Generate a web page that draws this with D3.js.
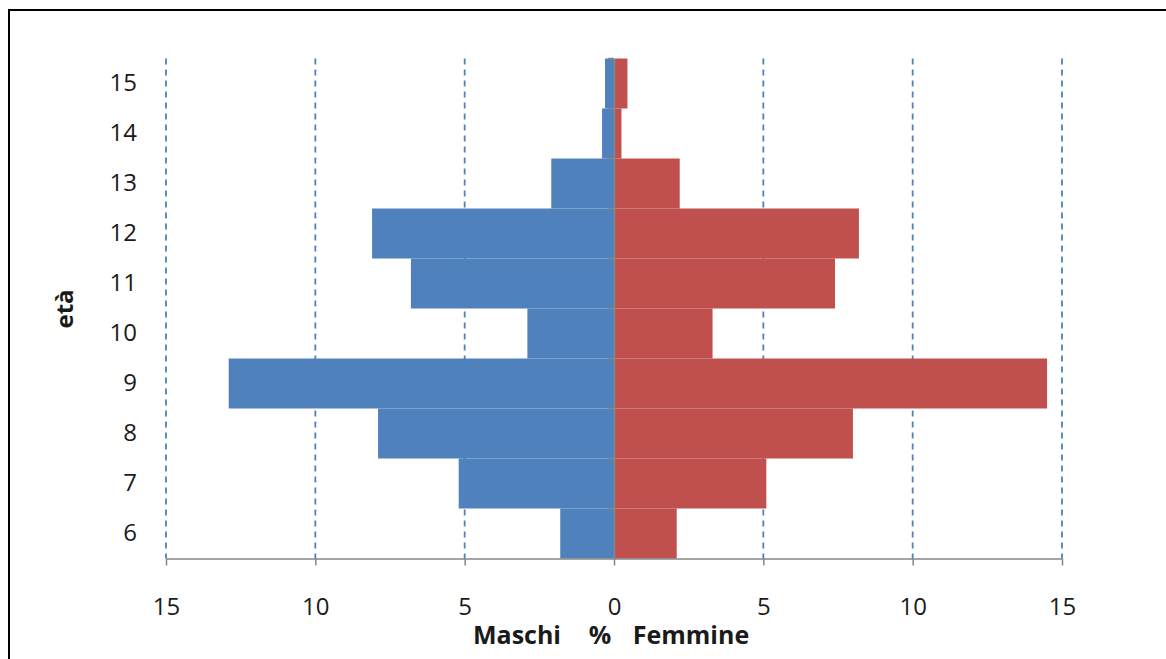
<!DOCTYPE html>
<html><head><meta charset="utf-8">
<script src="https://cdn.jsdelivr.net/npm/d3@7"></script>
<style>body{margin:0;background:#fff;}svg{display:block;}</style>
</head><body>
<script>
const ages = ["6","7","8","9","10","11","12","13","14","15"];
const maschi = [1.8, 5.2, 7.9, 12.9, 2.9, 6.8, 8.1, 2.1, 0.4, 0.3];
const femmine = [2.1, 5.1, 8.0, 14.5, 3.3, 7.4, 8.2, 2.2, 0.25, 0.45];
const xTicks = [-15, -10, -5, 0, 5, 10, 15];
const titleParts = ["Maschi", "%", "Femmine"];

const W = 1166, H = 659;
const FONT = "'Open Sans', sans-serif";
const svg = d3.select("body").append("svg").attr("width", W).attr("height", H);
svg.append("rect").attr("x", 9).attr("y", 10).attr("width", W + 10).attr("height", H + 10)
  .attr("fill", "#fff").attr("stroke", "#000").attr("stroke-width", 2);

const x = d3.scaleLinear().domain([-15, 15]).range([166, 1062]);
const y = d3.scaleBand().domain(ages.slice().reverse()).range([58.5, 558.5]).padding(0);

// gridlines
svg.append("g").selectAll("line").data(xTicks.filter(d => d !== 0)).join("line")
  .attr("x1", d => x(d)).attr("x2", d => x(d)).attr("y1", 58.5).attr("y2", 558.5)
  .attr("stroke", "#4F81BD").attr("stroke-width", 1.8).attr("stroke-dasharray", "6,5");

// bars
svg.append("g").selectAll("rect").data(ages).join("rect")
  .attr("x", (d, i) => x(-maschi[i])).attr("y", d => y(d))
  .attr("width", (d, i) => x(0) - x(-maschi[i])).attr("height", y.bandwidth())
  .attr("fill", "#4F81BD");
svg.append("g").selectAll("rect").data(ages).join("rect")
  .attr("x", x(0)).attr("y", d => y(d))
  .attr("width", (d, i) => x(femmine[i]) - x(0)).attr("height", y.bandwidth())
  .attr("fill", "#C0504D");

// x axis
const xAxis = d3.axisBottom(x).tickValues(xTicks).tickFormat(d => Math.abs(d)).tickSize(7).tickSizeOuter(0);
const gx = svg.append("g").attr("transform", "translate(0,558.5)").call(xAxis);
gx.select(".domain").attr("stroke", "#868686").attr("stroke-width", 1.5);
gx.selectAll(".tick line").attr("stroke", "#868686").attr("stroke-width", 1.5);
gx.selectAll("text").attr("font-family", FONT).attr("font-size", 24)
  .attr("fill", "#1a1a1a").attr("y", 0).attr("dy", 0)
  .attr("transform", "translate(0,56)");

// y axis
const yAxis = d3.axisLeft(y).tickSize(0).tickPadding(0);
const gy = svg.append("g").attr("transform", `translate(${x(0)},0)`).call(yAxis);
gy.select(".domain").attr("stroke", "#868686").attr("stroke-width", 1.5);
gy.selectAll("text").attr("x", 137 - x(0)).attr("font-family", FONT)
  .attr("font-size", 24).attr("fill", "#1a1a1a");
// band boundary tick marks
svg.append("g").selectAll("line").data(ages).join("line")
  .attr("x1", x(0) - 6).attr("x2", x(0)).attr("y1", d => y(d)).attr("y2", d => y(d))
  .attr("stroke", "#868686").attr("stroke-width", 1.5);

// titles
const titleX = [517, 600, 691];
svg.append("g").selectAll("text").data(titleParts).join("text")
  .attr("x", (d, i) => titleX[i]).attr("y", 644).attr("text-anchor", "middle")
  .attr("font-family", FONT).attr("font-size", 25).attr("font-weight", "bold")
  .attr("fill", "#1a1a1a").text(d => d);
svg.append("text").attr("transform", "translate(73,309) rotate(-90)").attr("text-anchor", "middle")
  .attr("font-family", FONT).attr("font-size", 24).attr("font-weight", "bold")
  .attr("fill", "#1a1a1a").text("età");
</script>
</body></html>
